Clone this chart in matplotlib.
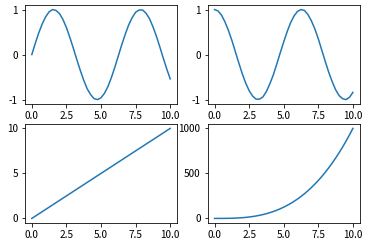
import matplotlib
matplotlib.use('Agg')
import matplotlib.pyplot as plt

plt.rcParams['font.family'] = ['Noto Sans CJK SC', 'DejaVu Sans']
plt.rcParams['axes.unicode_minus'] = False
plt.rcParams['font.size'] = 10

# 数据
x = [0, 0.25, 0.5, 0.75, 1.0, 1.25, 1.5, 1.75, 2.0, 2.25, 2.5, 2.75, 3.0, 3.25,
     3.5, 3.75, 4.0, 4.25, 4.5, 4.75, 5.0, 5.25, 5.5, 5.75, 6.0, 6.25, 6.5, 6.75,
     7.0, 7.25, 7.5, 7.75, 8.0, 8.25, 8.5, 8.75, 9.0, 9.25, 9.5, 9.75, 10.0]
sin_y = [0.00, 0.25, 0.48, 0.68, 0.84, 0.95, 1.00, 0.98, 0.91, 0.78, 0.60, 0.38,
         0.14, -0.11, -0.35, -0.57, -0.76, -0.89, -0.98, -1.00, -0.96, -0.86,
         -0.71, -0.51, -0.28, -0.03, 0.22, 0.45, 0.66, 0.82, 0.94, 0.99, 0.99,
         0.92, 0.80, 0.62, 0.41, 0.17, -0.08, -0.32, -0.54]
cos_y = [1.00, 0.97, 0.88, 0.73, 0.54, 0.32, 0.07, -0.18, -0.42, -0.63, -0.80,
         -0.92, -0.99, -0.99, -0.94, -0.82, -0.65, -0.45, -0.21, 0.04, 0.28, 0.51,
         0.71, 0.86, 0.96, 1.00, 0.98, 0.89, 0.75, 0.57, 0.35, 0.10, -0.15, -0.39,
         -0.60, -0.78, -0.91, -0.98, -1.00, -0.95, -0.84]
lin_x = [0, 10]
lin_y = [0, 10]
cube_y = [0, 0.02, 0.13, 0.42, 1, 1.95, 3.4, 5.4, 8, 11.4, 15.6, 20.8, 27, 34.3,
          42.9, 52.7, 64, 76.8, 91.1, 107.2, 125, 144.7, 166.4, 190.1, 216, 244.1,
          274.6, 307.5, 343, 381.1, 421.9, 465.5, 512, 561.5, 614.1, 669.9, 729,
          791.5, 857.4, 926.9, 1000]

x_ticks = [0, 2.5, 5, 7.5, 10]

fig, axs = plt.subplots(2, 2, figsize=(389 / 72, 241 / 72), dpi=72)
fig.subplots_adjust(left=0.064, right=0.925, top=0.979, bottom=0.075,
                    wspace=0.2, hspace=0.2)

axs[0, 0].plot(x, sin_y)
axs[0, 0].set_yticks([-1, 0, 1])
axs[0, 1].plot(x, cos_y)
axs[0, 1].set_yticks([-1, 0, 1])
axs[1, 0].plot(lin_x, lin_y)
axs[1, 0].set_yticks([0, 5, 10])
axs[1, 1].plot(x, cube_y)
axs[1, 1].set_yticks([0, 500, 1000])

for ax in axs.flat:
    ax.set_xticks(x_ticks)

fig.savefig('out.png', dpi=72)
